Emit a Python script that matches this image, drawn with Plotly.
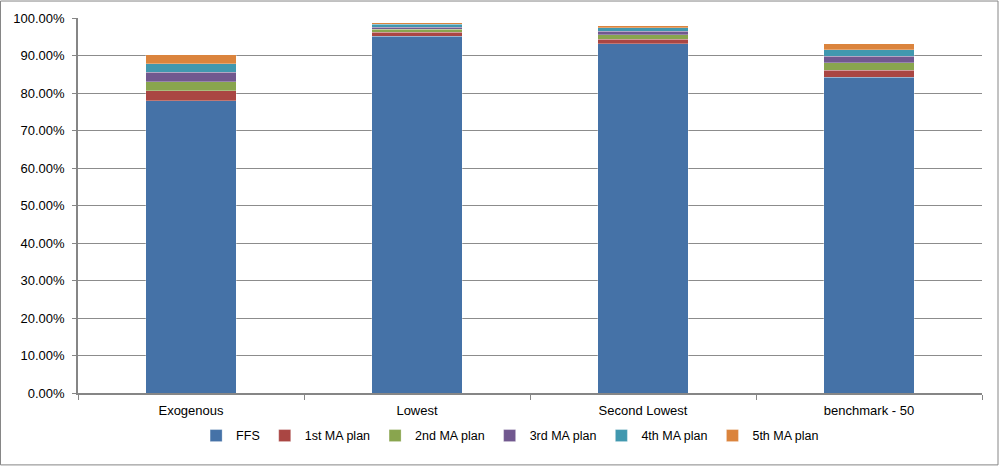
import plotly.graph_objects as go

categories = ["Exogenous", "Lowest", "Second Lowest", "benchmark - 50"]
series_names = ["FFS", "1st MA plan", "2nd MA plan", "3rd MA plan", "4th MA plan", "5th MA plan"]
ffs = [78.0, 95.2, 93.1, 84.2]
ma1 = [2.6, 1.0, 1.25, 1.9]
ma2 = [2.4, 0.8, 1.25, 2.0]
ma3 = [2.6, 0.6, 0.9, 1.7]
ma4 = [2.2, 0.7, 0.9, 1.7]
ma5 = [2.4, 0.45, 0.6, 1.6]
colors = ["#4572A7", "#AA4643", "#89A54E", "#71588F", "#4198AF", "#DB843D"]
y_ticks = [0, 10, 20, 30, 40, 50, 60, 70, 80, 90, 100]

W, H = 999, 466
ML, MR, MT, MB = 78, 17, 17.5, 73
pw = W - ML - MR
ph = H - MT - MB

fig = go.Figure()
for name, vals, col in zip(series_names, [ffs, ma1, ma2, ma3, ma4, ma5], colors):
    fig.add_trace(go.Bar(
        x=categories, y=vals, name=name,
        marker=dict(color=col, line=dict(color="rgba(255,255,255,0.45)", width=0.6)),
    ))

font_family = "Liberation Sans, Arial, sans-serif"
fig.update_layout(
    width=W, height=H,
    barmode="stack", bargap=0.6,
    margin=dict(l=ML, r=MR, t=MT, b=MB, pad=0),
    paper_bgcolor="white", plot_bgcolor="white",
    font=dict(family=font_family, size=12, color="#000000"),
    showlegend=True,
    legend=dict(orientation="h", x=0.478, xanchor="center", y=-43 / ph, yanchor="middle",
                font=dict(size=12.5), itemwidth=30, traceorder="normal",
                bgcolor="rgba(0,0,0,0)"),
    xaxis=dict(
        showline=True, linecolor="#868686", linewidth=1.5,
        ticks="outside", tickson="boundaries", ticklen=5, tickcolor="#868686",
        tickfont=dict(size=13), showgrid=False, ticklabelstandoff=5,
    ),
    yaxis=dict(
        range=[0, 100], tickvals=y_ticks,
        ticktext=[f"{v:.2f}%" for v in y_ticks],
        showline=True, linecolor="#868686", linewidth=1.5,
        ticks="outside", ticklen=4, tickcolor="#868686",
        showgrid=True, gridcolor="#8c8c8c", gridwidth=1,
        tickfont=dict(size=13), zeroline=False, ticklabelstandoff=5,
    ),
    shapes=[dict(
        type="rect", xref="paper", yref="paper",
        x0=(0.5 - ML) / pw, x1=(998 - ML) / pw,
        y0=-(465 - (H - MB)) / ph, y1=((H - MB) - 0.5) / ph,
        line=dict(color="#868686", width=1), fillcolor="rgba(0,0,0,0)", layer="below",
    )],
)

fig.write_html("out.html")
